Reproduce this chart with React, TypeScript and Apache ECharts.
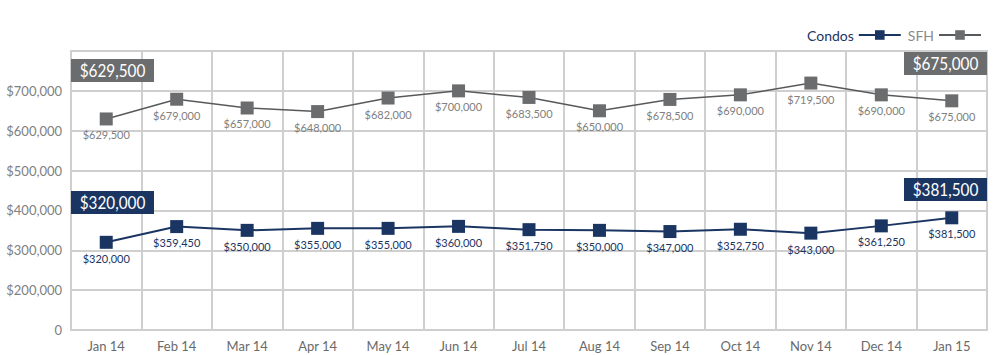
import React, { useEffect, useRef } from "react";
import * as echarts from "echarts";

const months = ["Jan 14", "Feb 14", "Mar 14", "Apr 14", "May 14", "Jun 14", "Jul 14", "Aug 14", "Sep 14", "Oct 14", "Nov 14", "Dec 14", "Jan 15"];
const condos = [320000, 359450, 350000, 355000, 355000, 360000, 351750, 350000, 347000, 352750, 343000, 361250, 381500];
const sfh = [629500, 679000, 657000, 648000, 682000, 700000, 683500, 650000, 678500, 690000, 719500, 690000, 675000];
const yTicks = [100000, 200000, 300000, 400000, 500000, 600000, 700000, 800000];

const NAVY = "#1b3563";
const GRAY = "#6b6c6e";
const FONT = "Lato";

const fmt = (v: number) => "$" + v.toLocaleString("en-US");

export default function App() {
  const ref = useRef<HTMLDivElement>(null);
  useEffect(() => {
    const chart = echarts.init(ref.current!, null, { renderer: "svg" });
    const box = (text: string, color: string, x: number, y: number) => ({
      type: "group",
      left: x,
      top: y,
      z: 100,
      children: [
        { type: "rect", z: 100, shape: { x: 0, y: 0, width: 83, height: 23 }, style: { fill: color } },
        {
          type: "text",
          z: 101,
          x: 41.5,
          y: 11.5,
          scaleX: 0.9,
          style: {
            text,
            fill: "#fff",
            font: `17px ${FONT}`,
            align: "center",
            verticalAlign: "middle",
          },
        },
      ],
    });
    chart.setOption({
      animation: false,
      textStyle: { fontFamily: FONT },
      legend: {
        right: 13,
        top: 23,
        align: "right",
        itemGap: 6,
        itemWidth: 42,
        itemHeight: 12,
        textStyle: { fontSize: 14, fontFamily: FONT },
        data: [
          { name: "Condos", textStyle: { color: NAVY } },
          { name: "SFH", textStyle: { color: "#8a8b8d" } },
        ],
      },
      grid: {
        left: 71,
        right: 13,
        top: 51,
        bottom: 25,
        show: true,
        borderColor: "#cfcfcf",
        borderWidth: 2,
      },
      xAxis: {
        type: "category",
        data: months,
        boundaryGap: true,
        axisLine: { show: true, lineStyle: { color: "#cfcfcf", width: 2 } },
        axisTick: { show: false },
        splitLine: { show: true, lineStyle: { color: "#cfcfcf", width: 2 } },
        axisLabel: { color: "#6a6a6a", fontSize: 13, margin: 9, fontFamily: FONT },
      },
      yAxis: {
        type: "value",
        min: yTicks[0],
        max: yTicks[yTicks.length - 1],
        interval: 100000,
        axisLine: { show: false },
        axisTick: { show: false },
        splitLine: { show: true, lineStyle: { color: "#cfcfcf", width: 2 } },
        axisLabel: {
          color: "#808080",
          fontSize: 13,
          margin: 9,
          fontFamily: FONT,
          formatter: (v: number) => (v === yTicks[0] ? "0" : v === yTicks[yTicks.length - 1] ? "" : fmt(v)),
        },
      },
      series: [
        {
          name: "Condos",
          type: "line",
          data: condos,
          symbol: "rect",
          symbolSize: 13,
          itemStyle: { color: NAVY },
          lineStyle: { color: NAVY, width: 2 },
          label: {
            show: true,
            position: "bottom",
            distance: 4,
            color: NAVY,
            fontSize: 11,
            fontFamily: FONT,
            formatter: (p: any) => fmt(p.value),
          },
        },
        {
          name: "SFH",
          type: "line",
          data: sfh,
          symbol: "rect",
          symbolSize: 13,
          itemStyle: { color: GRAY },
          lineStyle: { color: "#58595b", width: 1.5 },
          label: {
            show: true,
            position: "bottom",
            distance: 4,
            color: "#808080",
            fontSize: 11,
            fontFamily: FONT,
            formatter: (p: any) => fmt(p.value),
          },
        },
      ],
      graphic: [
        box(fmt(sfh[0]), GRAY, 71, 59),
        box(fmt(sfh[sfh.length - 1]), GRAY, 904, 52),
        box(fmt(condos[0]), NAVY, 71, 191),
        box(fmt(condos[condos.length - 1]), NAVY, 904, 178),
      ],
    });
    return () => chart.dispose();
  }, []);
  return <div ref={ref} style={{ position: "fixed", left: 0, top: 0, width: 1000, height: 355, background: "#fff" }} />;
}
